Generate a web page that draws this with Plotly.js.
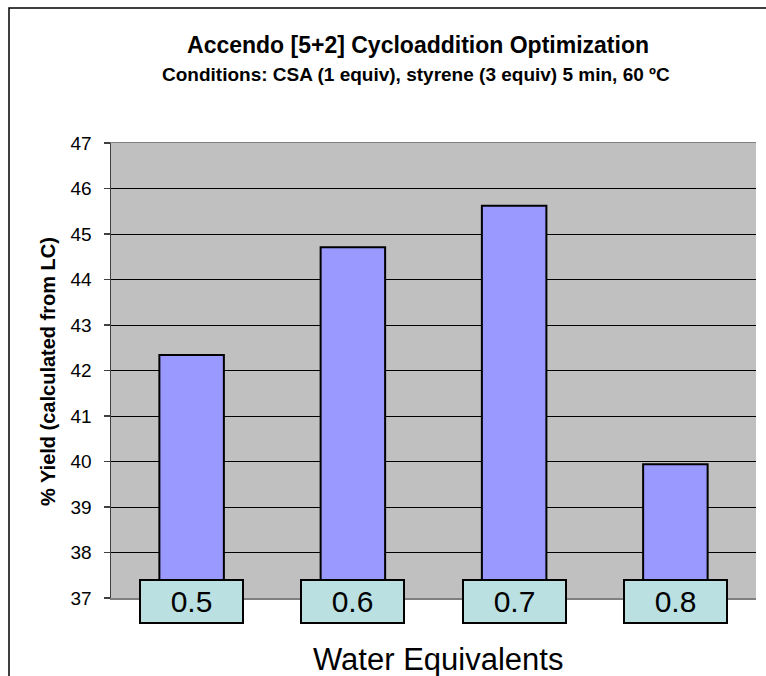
<!DOCTYPE html>
<html>
<head>
<meta charset="utf-8">
<script src="https://cdn.plot.ly/plotly-3.0.1.min.js"></script>
<style>html,body{margin:0;padding:0;background:#fff;}#chart{width:766px;height:676px;}</style>
</head>
<body>
<div id="chart"></div>
<script>
const categories = ["0.5", "0.6", "0.7", "0.8"];
const yieldValues = [42.34, 44.71, 45.62, 39.94];
const yTickValues = [37, 38, 39, 40, 41, 42, 43, 44, 45, 46, 47];

const W = 766, H = 676;
const M = {l: 111, r: 10, t: 143, b: 78};
const pw = W - M.l - M.r, ph = H - M.t - M.b;
const px = v => (v - M.l) / pw;
const py = v => (H - M.b - v) / ph;
const FONT = 'Liberation Sans, Arial, sans-serif';

const trace = {
  type: 'bar',
  x: categories,
  y: yieldValues,
  marker: {color: '#9999FF', line: {color: '#000000', width: 2}},
  hoverinfo: 'none'
};

const labelAnnotations = categories.map((c, i) => ({
  xref: 'x', yref: 'paper', x: i, y: py(579), yanchor: 'top', xanchor: 'center',
  text: c, showarrow: false, width: 101, height: 41,
  bgcolor: '#BAE0E2', bordercolor: '#000000', borderwidth: 2, borderpad: 0,
  font: {family: FONT, size: 30, color: '#000'}
}));

const layout = {
  width: W, height: H,
  margin: M,
  paper_bgcolor: '#ffffff',
  plot_bgcolor: '#C0C0C0',
  showlegend: false,
  bargap: 0.6,
  title: {
    text: '<b>Accendo [5+2] Cycloaddition Optimization</b>',
    font: {family: FONT, size: 23, color: '#000'},
    xref: 'container', yref: 'container', x: 418 / W, xanchor: 'center',
    y: 1 - 45 / H, yanchor: 'middle'
  },
  xaxis: {
    type: 'category',
    showticklabels: false,
    ticks: '',
    showgrid: false,
    showline: true, linecolor: '#808080', linewidth: 1.5,
    mirror: true,
    zeroline: false,
    fixedrange: true
  },
  yaxis: {
    range: [37, 47],
    tickvals: yTickValues,
    ticktext: yTickValues.map(String),
    ticks: 'outside', ticklen: 6, tickcolor: '#404040', tickwidth: 1.5,
    ticklabelstandoff: 8,
    showgrid: true, gridcolor: '#000000', gridwidth: 1,
    showline: true, linecolor: '#404040', linewidth: 1.5,
    zeroline: false,
    tickfont: {family: FONT, size: 19, color: '#000'},
    fixedrange: true
  },
  annotations: [
    {
      xref: 'paper', yref: 'paper', x: px(416), y: py(74), xanchor: 'center', yanchor: 'middle',
      text: '<b>Conditions: CSA (1 equiv), styrene (3 equiv) 5 min, 60 ºC</b>', showarrow: false,
      font: {family: FONT, size: 19, color: '#000'}
    },
    {
      xref: 'paper', yref: 'paper', x: px(48), y: py(372), xanchor: 'center', yanchor: 'middle',
      text: '<b>% Yield (calculated from LC)</b>', showarrow: false, textangle: -90,
      font: {family: FONT, size: 20, color: '#000'}
    },
    {
      xref: 'paper', yref: 'paper', x: px(438), y: py(659), xanchor: 'center', yanchor: 'middle',
      text: 'Water Equivalents', showarrow: false,
      font: {family: FONT, size: 31, color: '#000'}
    }
  ].concat(labelAnnotations),
  shapes: [
    {
      type: 'rect', xref: 'paper', yref: 'paper', layer: 'below',
      x0: px(9), x1: px(W + 20), y0: py(H + 20), y1: py(8),
      line: {color: '#000000', width: 1.5}, fillcolor: 'rgba(0,0,0,0)'
    }
  ]
};

Plotly.newPlot('chart', [trace], layout, {displayModeBar: false, staticPlot: true});
</script>
</body>
</html>
